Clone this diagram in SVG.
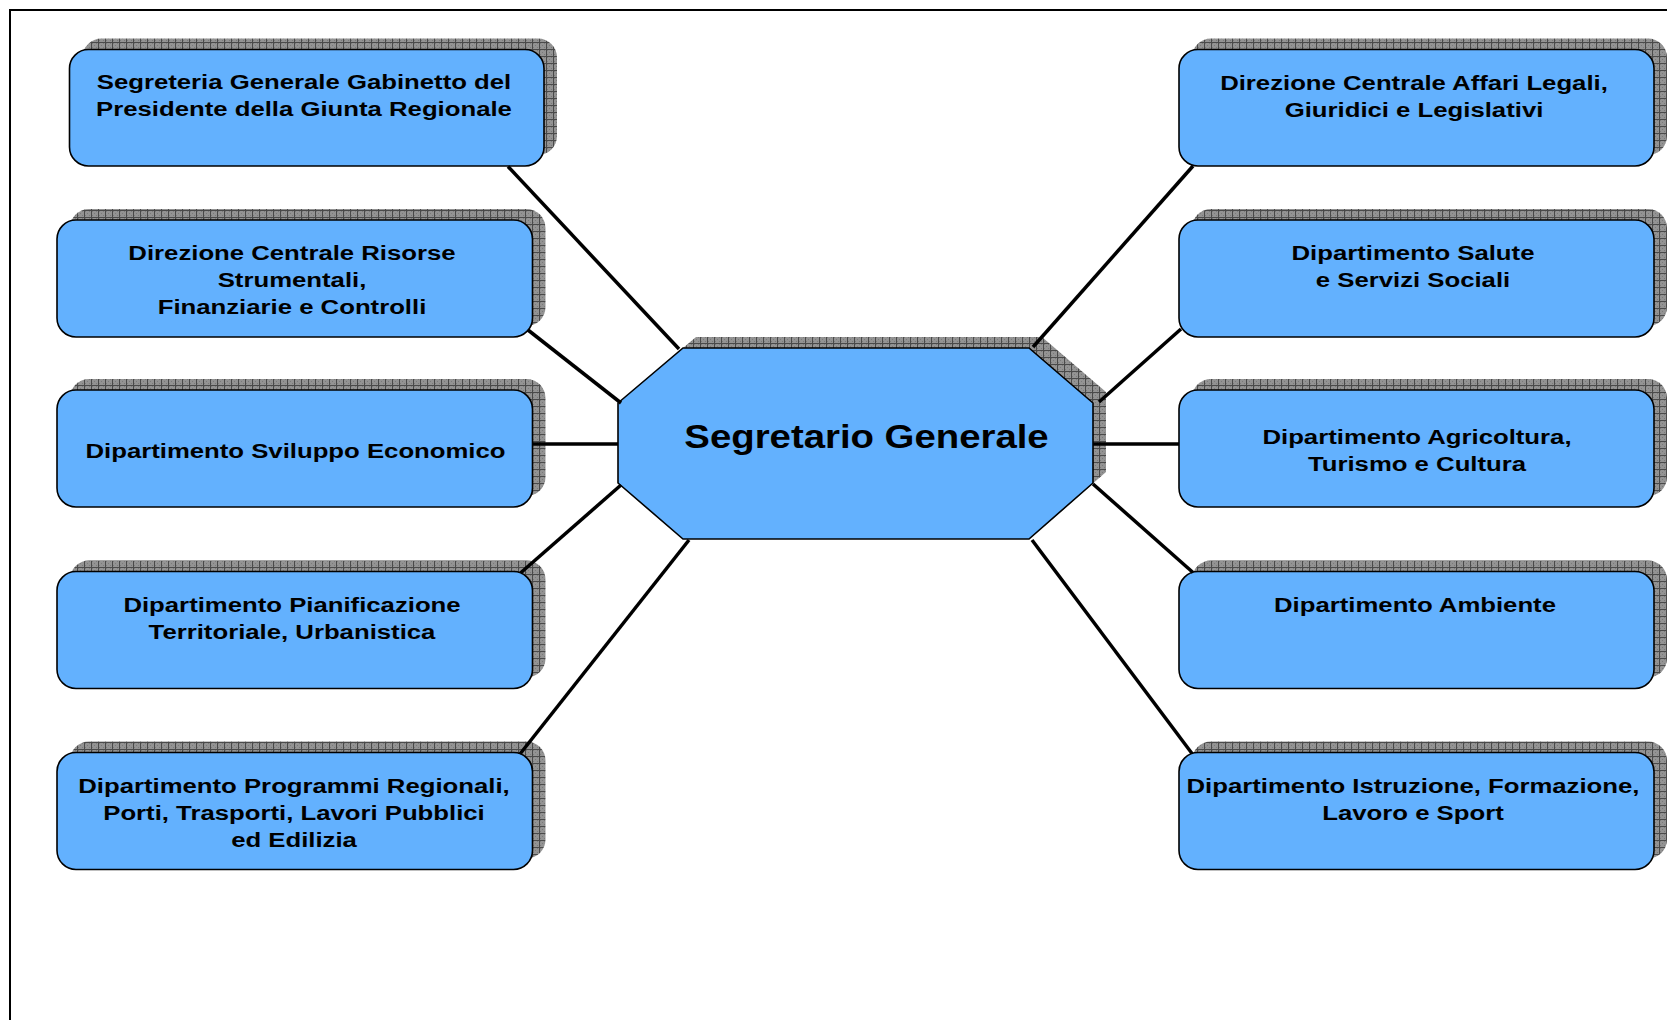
<svg xmlns="http://www.w3.org/2000/svg" width="1667" height="1020" viewBox="0 0 1667 1020">
<defs>
<pattern id="grid" width="7" height="7" patternUnits="userSpaceOnUse">
<rect width="7" height="7" fill="#939393"/>
<rect x="1" y="1" width="1" height="1" fill="#7a7a7a"/>
<rect x="3" y="3" width="1" height="1" fill="#7a7a7a"/>
<rect x="5" y="5" width="1" height="1" fill="#7a7a7a"/>
<rect x="5" y="1" width="1" height="1" fill="#7a7a7a"/>
<rect x="1" y="5" width="1" height="1" fill="#7a7a7a"/>
<path d="M0 0.5H7M0.5 0V7" stroke="#4a4a4a" stroke-width="1"/>
</pattern>
<style>
.shadow{fill:url(#grid);}
.box{fill:#63B1FE;stroke:#000;stroke-width:1.6;}
.t{font-family:"Liberation Sans",Arial,sans-serif;font-weight:bold;font-size:20.5px;fill:#000;text-anchor:middle;}
.tc{font-family:"Liberation Sans",Arial,sans-serif;font-weight:bold;font-size:32.5px;fill:#000;text-anchor:middle;}
.c{stroke:#000;stroke-width:3.5;fill:none;}
.frame{stroke:#000;stroke-width:2;fill:none;}
</style>
</defs>
<rect width="1667" height="1020" fill="#fff"/>
<path class="frame" d="M10 1020V10H1667"/>

<g id="center">
<polygon class="shadow" points="696,337 1042,337 1106,392 1106,472 1042,528 696,528 631,472 631,392"/>
<polygon class="box" points="683,348 1029,348 1093,403 1093,483 1029,539 683,539 618,483 618,403"/>
<g transform="translate(866.5,0) scale(1.18,1)"><text class="tc" x="0" y="448">Segretario Generale</text></g>
</g>

<g id="n-l1">
<rect class="shadow" x="82.5" y="38.5" width="474.5" height="116.5" rx="19"/>
<rect class="box" x="69.5" y="49.5" width="474.5" height="116.5" rx="19"/>
<g transform="translate(304,0) scale(1.255,1)"><text class="t" x="0" y="89">Segreteria Generale Gabinetto del</text><text class="t" x="0" y="116">Presidente della Giunta Regionale</text></g>
</g>

<g id="n-l2">
<rect class="shadow" x="70" y="209" width="475.5" height="117" rx="19"/>
<rect class="box" x="57" y="220" width="475.5" height="117" rx="19"/>
<g transform="translate(292,0) scale(1.255,1)"><text class="t" x="0" y="260">Direzione Centrale Risorse</text><text class="t" x="0" y="287">Strumentali,</text><text class="t" x="0" y="314">Finanziarie e Controlli</text></g>
</g>

<g id="n-l3">
<rect class="shadow" x="70" y="379" width="475.5" height="117" rx="19"/>
<rect class="box" x="57" y="390" width="475.5" height="117" rx="19"/>
<g transform="translate(295.5,0) scale(1.255,1)"><text class="t" x="0" y="458">Dipartimento Sviluppo Economico</text></g>
</g>

<g id="n-l4">
<rect class="shadow" x="70" y="560.5" width="475.5" height="117" rx="19"/>
<rect class="box" x="57" y="571.5" width="475.5" height="117" rx="19"/>
<g transform="translate(292,0) scale(1.255,1)"><text class="t" x="0" y="612">Dipartimento Pianificazione</text><text class="t" x="0" y="639">Territoriale, Urbanistica</text></g>
</g>

<g id="n-l5">
<rect class="shadow" x="70" y="741.5" width="475.5" height="117" rx="19"/>
<rect class="box" x="57" y="752.5" width="475.5" height="117" rx="19"/>
<g transform="translate(294,0) scale(1.255,1)"><text class="t" x="0" y="793">Dipartimento Programmi Regionali,</text><text class="t" x="0" y="820">Porti, Trasporti, Lavori Pubblici</text><text class="t" x="0" y="847">ed Edilizia</text></g>
</g>

<g id="n-r1">
<rect class="shadow" x="1192" y="38.5" width="475" height="116.5" rx="19"/>
<rect class="box" x="1179" y="49.5" width="475" height="116.5" rx="19"/>
<g transform="translate(1414,0) scale(1.255,1)"><text class="t" x="0" y="90">Direzione Centrale Affari Legali,</text><text class="t" x="0" y="117">Giuridici e Legislativi</text></g>
</g>

<g id="n-r2">
<rect class="shadow" x="1192" y="209" width="475" height="117" rx="19"/>
<rect class="box" x="1179" y="220" width="475" height="117" rx="19"/>
<g transform="translate(1413,0) scale(1.255,1)"><text class="t" x="0" y="260">Dipartimento Salute</text><text class="t" x="0" y="287">e Servizi Sociali</text></g>
</g>

<g id="n-r3">
<rect class="shadow" x="1192" y="379" width="475" height="117" rx="19"/>
<rect class="box" x="1179" y="390" width="475" height="117" rx="19"/>
<g transform="translate(1417,0) scale(1.255,1)"><text class="t" x="0" y="444">Dipartimento Agricoltura,</text><text class="t" x="0" y="471">Turismo e Cultura</text></g>
</g>

<g id="n-r4">
<rect class="shadow" x="1192" y="560.5" width="475" height="117" rx="19"/>
<rect class="box" x="1179" y="571.5" width="475" height="117" rx="19"/>
<g transform="translate(1415,0) scale(1.255,1)"><text class="t" x="0" y="612">Dipartimento Ambiente</text></g>
</g>

<g id="n-r5">
<rect class="shadow" x="1192" y="741.5" width="475" height="117" rx="19"/>
<rect class="box" x="1179" y="752.5" width="475" height="117" rx="19"/>
<g transform="translate(1413,0) scale(1.255,1)"><text class="t" x="0" y="793">Dipartimento Istruzione, Formazione,</text><text class="t" x="0" y="820">Lavoro e Sport</text></g>
</g>

<g id="connectors">
<line class="c" x1="508" y1="166.5" x2="679" y2="349"/>
<line class="c" x1="528" y1="330" x2="621" y2="403"/>
<line class="c" x1="532.5" y1="444" x2="618" y2="444"/>
<line class="c" x1="520.5" y1="573" x2="621" y2="485"/>
<line class="c" x1="520" y1="754" x2="689" y2="540"/>
<line class="c" x1="1193" y1="166" x2="1033" y2="347"/>
<line class="c" x1="1181" y1="329" x2="1099" y2="402"/>
<line class="c" x1="1093" y1="444" x2="1179" y2="444"/>
<line class="c" x1="1193" y1="572.5" x2="1093" y2="484"/>
<line class="c" x1="1192" y1="753.5" x2="1032" y2="540"/>
</g>
</svg>
